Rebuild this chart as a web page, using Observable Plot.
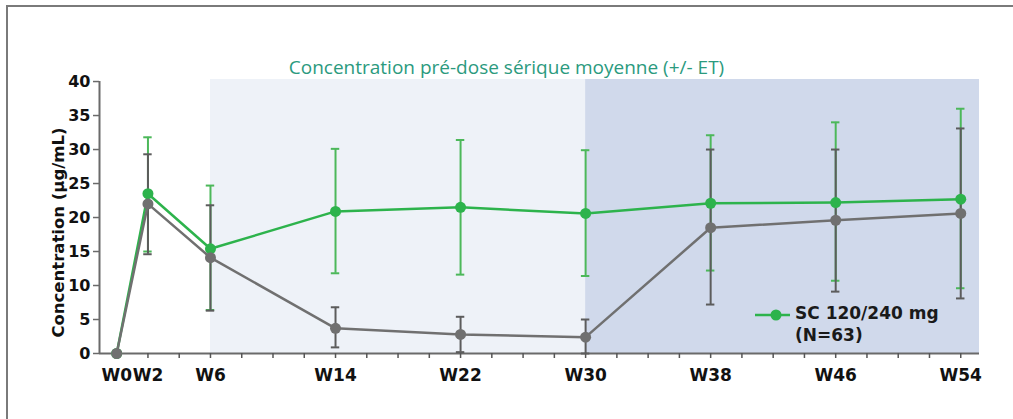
<!DOCTYPE html>
<html>
<head>
<meta charset="utf-8">
<script src="https://cdn.jsdelivr.net/npm/d3@7"></script>
<script src="https://cdn.jsdelivr.net/npm/@observablehq/plot@0.6"></script>
<style>
  html, body { margin: 0; padding: 0; background: #fff; }
  #wrap { position: relative; width: 1013px; height: 419px; overflow: hidden; }
  #frame { position: absolute; left: 6px; top: 5px; right: -10px; bottom: -10px; border-top: 2px solid #7a7a7a; border-left: 2px solid #7a7a7a; pointer-events: none; }
  #title { position: absolute; left: 0; width: 1013px; top: 54px; text-align: center; font-family: "Open Sans", sans-serif; font-size: 19px; color: #2b9a7e; }
  #legend { position: absolute; left: 754px; top: 302px; font-family: "DejaVu Sans", sans-serif; font-weight: bold; font-size: 17px; color: #1a1a1a; line-height: 22px; }
  #legend svg { position: absolute; left: 0; top: 3px; }
  #legend .txt { position: absolute; left: 41px; top: 0; white-space: nowrap; }
  #chart { position: absolute; left: 0; top: 0; }
</style>
</head>
<body>
<div id="wrap">
  <div id="chart"></div>
  <div id="title"></div>
  <div id="legend"></div>
  <div id="frame"></div>
</div>
<script>
// ---- data ----
const titleText = "Concentration pré-dose sérique moyenne (+/- ET)";
const yLabel = "Concentration (µg/mL)";
const legendLabel = "SC 120/240 mg";
const legendN = "(N=63)";

const weeks = [0, 2, 6, 14, 22, 30, 38, 46, 54];
const labeledWeeks = [0, 2, 6, 14, 22, 30, 38, 46, 54];
const tickWeeks = d3.range(0, 55, 2);
const yTicks = [0, 5, 10, 15, 20, 25, 30, 35, 40];

// SC 120/240 mg (green)
const scMean = [0, 23.5, 15.4, 20.9, 21.5, 20.6, 22.1, 22.2, 22.7];
const scLow  = [null, 15.0, 6.4, 11.8, 11.6, 11.4, 12.2, 10.7, 9.6];
const scHigh = [null, 31.8, 24.7, 30.1, 31.4, 29.9, 32.1, 34.0, 36.0];

// second series (grey)
const grMean = [0, 22.0, 14.1, 3.7, 2.8, 2.4, 18.5, 19.6, 20.6];
const grLow  = [null, 14.6, 6.3, 0.9, 0.2, 0.0, 7.2, 9.1, 8.1];
const grHigh = [null, 29.3, 21.8, 6.8, 5.4, 5.0, 30.0, 30.0, 33.1];

// shaded periods (weeks)
const phaseStart = [6, 30];
const phaseEnd = [30, 55.2];
const phaseFill = ["#eef2f8", "#d0d9eb"];

const xDomain = [-1.1, 55.2];
const yDomain = [0, 40.3];

// ---- build tables ----
const sc = weeks.map((w, i) => ({week: w, mean: scMean[i], lo: scLow[i], hi: scHigh[i]}));
const gr = weeks.map((w, i) => ({week: w, mean: grMean[i], lo: grLow[i], hi: grHigh[i]}));
const scErr = sc.filter(d => d.lo != null);
const grErr = gr.filter(d => d.lo != null);
const phases = phaseStart.map((s, i) => ({x1: s, x2: phaseEnd[i], fill: phaseFill[i]}));

const green = "#2db34c";
const greenErr = "#4cb85a";
const grey = "#707070";
const greyErr = "#5c5c5c";
const capW = 0.27;

const font = "DejaVu Sans, sans-serif";

const chart = Plot.plot({
  width: 1013,
  height: 419,
  marginLeft: 99,
  marginRight: 34,
  marginTop: 79,
  marginBottom: 66,
  style: {fontFamily: font, background: "transparent", overflow: "visible"},
  x: {domain: xDomain},
  y: {domain: yDomain},
  marks: [
    Plot.rectY(phases, {x1: "x1", x2: "x2", y1: 0, y2: yDomain[1], fill: "fill"}),
    // axes lines
    Plot.ruleX([xDomain[0]], {y1: 0, y2: 40, stroke: "#6a6a6a", strokeWidth: 2}),
    Plot.ruleY([0], {stroke: "#6a6a6a", strokeWidth: 2}),
    Plot.axisY({ticks: yTicks, tickSize: 6, tickPadding: 3, fontSize: 16, fontWeight: "bold", fill: "#111", stroke: "#6a6a6a", strokeWidth: 1.5, label: null}),
    Plot.axisX({ticks: tickWeeks, tickSize: 5, tickPadding: 10, fontSize: 17, fontWeight: "bold", fill: "#111", stroke: "#555", strokeWidth: 1.5, label: null,
      tickFormat: d => labeledWeeks.includes(d) ? "W" + d : ""}),
    Plot.text([yLabel], {frameAnchor: "left", textAnchor: "middle", rotate: -90, dx: -41, dy: 16, fontSize: 16.5, fontWeight: "bold", fill: "#111"}),
    // green error bars
    Plot.ruleX(scErr, {x: "week", y1: "lo", y2: "hi", stroke: greenErr, strokeWidth: 2}),
    Plot.ruleY(scErr, {y: "hi", x1: d => d.week - capW, x2: d => d.week + capW, stroke: greenErr, strokeWidth: 2}),
    Plot.ruleY(scErr, {y: "lo", x1: d => d.week - capW, x2: d => d.week + capW, stroke: greenErr, strokeWidth: 2}),
    // grey error bars
    Plot.ruleX(grErr, {x: "week", y1: "lo", y2: "hi", stroke: greyErr, strokeWidth: 2}),
    Plot.ruleY(grErr, {y: "hi", x1: d => d.week - capW, x2: d => d.week + capW, stroke: greyErr, strokeWidth: 2}),
    Plot.ruleY(grErr, {y: "lo", x1: d => d.week - capW, x2: d => d.week + capW, stroke: greyErr, strokeWidth: 2}),
    // green series
    Plot.line(sc, {x: "week", y: "mean", stroke: green, strokeWidth: 2.5}),
    Plot.dot(sc, {x: "week", y: "mean", r: 5.5, fill: green}),
    // grey series
    Plot.line(gr, {x: "week", y: "mean", stroke: grey, strokeWidth: 2.5}),
    Plot.dot(gr, {x: "week", y: "mean", r: 5.5, fill: grey})
  ]
});
document.getElementById("chart").appendChild(chart);

document.getElementById("title").textContent = titleText;

const leg = document.getElementById("legend");
leg.innerHTML = `<svg width="40" height="20"><line x1="1" y1="10" x2="36" y2="10" stroke="${green}" stroke-width="2.5"/><circle cx="22" cy="10" r="5.5" fill="${green}"/></svg><div class="txt"></div>`;
const txt = leg.querySelector(".txt");
const t1 = document.createElement("div"); t1.textContent = legendLabel;
const t2 = document.createElement("div"); t2.textContent = legendN;
txt.appendChild(t1);
txt.appendChild(t2);
</script>
</body>
</html>
